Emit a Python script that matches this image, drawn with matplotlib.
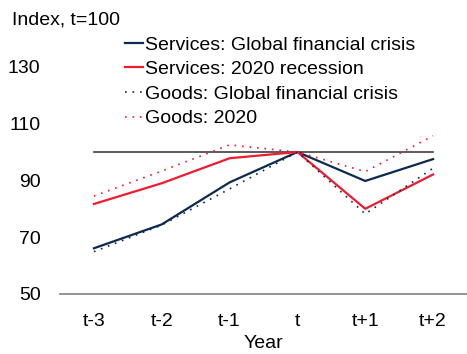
import matplotlib
matplotlib.use("Agg")
import matplotlib.pyplot as plt

plt.rcParams["font.family"] = ["Liberation Sans", "DejaVu Sans"]

years = ["t-3", "t-2", "t-1", "t", "t+1", "t+2"]
services_gfc = [66.1, 74.5, 89.3, 100, 89.8, 97.5]
services_2020 = [81.7, 89.0, 97.8, 100, 80.0, 92.1]
goods_gfc = [64.9, 74.3, 87.0, 100, 78.2, 94.3]
goods_2020 = [84.5, 93.3, 102.5, 100, 93.1, 105.7]
baseline = [100] * len(years)

NAVY = "#0b2a4f"
RED = "#ee1c2e"
FS = 14

fig = plt.figure(figsize=(4.67, 3.54), dpi=100)
ax = fig.add_axes([60 / 467, 1 - 294 / 354, 1 - 60 / 467, (294 - 38.4) / 354])

x = list(range(len(years)))
ax.plot(x, baseline, color="#404040", lw=1.2, zorder=1)
ax.plot(x, services_gfc, color=NAVY, lw=1.6, label="Services: Global financial crisis")
ax.plot(x, services_2020, color=RED, lw=1.6, label="Services: 2020 recession")
ax.plot(x, goods_gfc, color=NAVY, lw=1.2, ls=(0, (1, 3.5)), label="Goods: Global financial crisis")
ax.plot(x, goods_2020, color=RED, lw=1.2, ls=(0, (1, 3.5)), label="Goods: 2020")

ax.set_xlim(-0.5, len(years) - 0.5)
ax.set_ylim(50, 140)
ax.set_yticks([50, 70, 90, 110, 130])
ax.set_xticks(x)
ax.set_xticklabels(years)
ax.tick_params(axis="both", length=0, labelsize=FS)
ax.tick_params(axis="y", pad=14)
ax.tick_params(axis="x", pad=14)
for s in ["top", "right", "left"]:
    ax.spines[s].set_visible(False)
ax.spines["bottom"].set_color("#808080")
ax.spines["bottom"].set_linewidth(1.2)

ax.set_xlabel("Year", fontsize=FS, labelpad=3.5)
fig.text(12 / 467, 1 - 20 / 354, "Index, t=100", fontsize=FS, va="center", ha="left")

ax.legend(loc="upper left", bbox_to_anchor=(125 / 467, 1 - 36 / 354),
          bbox_transform=fig.transFigure, frameon=False,
          fontsize=FS, handlelength=0.95, handletextpad=0.1, labelspacing=0.36,
          borderaxespad=0, borderpad=0)

fig.savefig("out.png", dpi=100)
